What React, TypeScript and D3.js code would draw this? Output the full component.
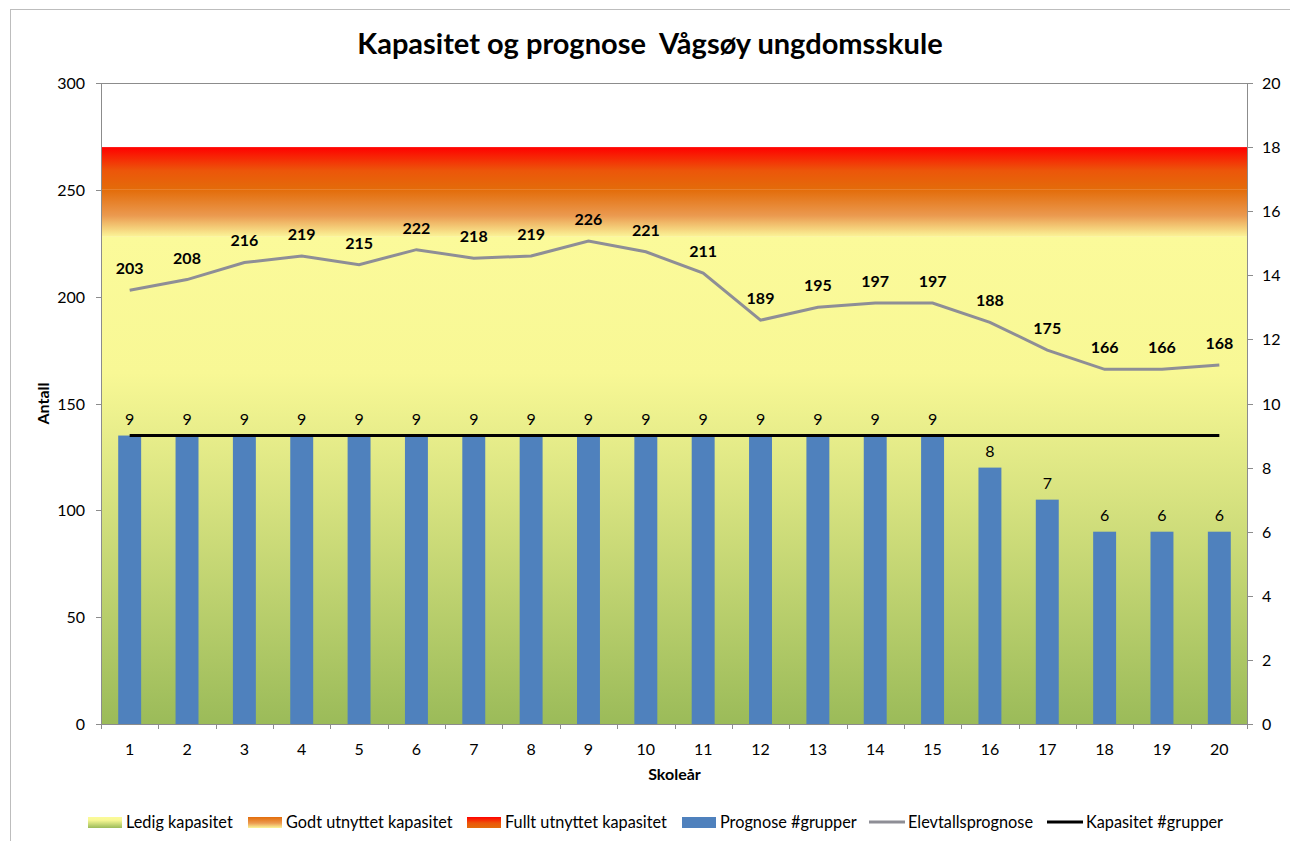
import React from "react";
import * as d3 from "d3";

const years = d3.range(1, 21).map(String);
const elevtall = [203, 208, 216, 219, 215, 222, 218, 219, 226, 221, 211, 189, 195, 197, 197, 188, 175, 166, 166, 168];
const grupper = [9, 9, 9, 9, 9, 9, 9, 9, 9, 9, 9, 9, 9, 9, 9, 8, 7, 6, 6, 6];
const kapasitetGrupper = [9, 9, 9, 9, 9, 9, 9, 9, 9, 9, 9, 9, 9, 9, 9, 9, 9, 9, 9, 9];
// stacked capacity bands (Antall)
const ledig = 228;
const godt = 22;
const fullt = 20;
const leftTicks = [0, 50, 100, 150, 200, 250, 300];
const rightTicks = [0, 2, 4, 6, 8, 10, 12, 14, 16, 18, 20];

const W = 1290;
const H = 841;
const m = { left: 101, right: 1248, top: 83, bottom: 724 };
const FONT = "Lato, 'Open Sans', sans-serif";

export default function App() {
  const x = d3.scaleBand().domain(years).range([m.left, m.right]);
  const yL = d3.scaleLinear().domain([0, 300]).range([m.bottom, m.top]);
  const yR = d3.scaleLinear().domain([0, 20]).range([m.bottom, m.top]);
  const barW = x.bandwidth() * 0.4;
  const cx = (i: number) => (x(years[i]) as number) + x.bandwidth() / 2;

  const line = d3.line<number>().x((_, i) => cx(i)).y((d) => yL(d));
  const capLine = d3.line<number>().x((_, i) => cx(i)).y((d) => yR(d));

  const bands = [
    { id: "gLedig", from: 0, to: ledig, c0: "#9bbb59", c1: "#fbfa9a", mid: "#f8f895", off: "72%" },
    { id: "gGodt", from: ledig, to: ledig + godt, c0: "#fbf598", c1: "#e36c0a", mid: "#eb9a50", off: "45%" },
    { id: "gFullt", from: ledig + godt, to: ledig + godt + fullt, c0: "#e36c0a", c1: "#ff0000", mid: "#ec560a", off: "45%" },
  ];

  const legend = [
    { kind: "grad", id: "gLedig", label: "Ledig kapasitet", x: 88 },
    { kind: "grad", id: "gGodt", label: "Godt utnyttet kapasitet", x: 248 },
    { kind: "grad", id: "gFullt", label: "Fullt utnyttet kapasitet", x: 467 },
    { kind: "bar", label: "Prognose #grupper", x: 682 },
    { kind: "grey", label: "Elevtallsprognose", x: 869 },
    { kind: "black", label: "Kapasitet #grupper", x: 1047 },
  ];

  return (
    <svg width={W} height={H} style={{ position: "absolute", left: 0, top: 0 }} fontFamily={FONT}>
      <defs>
        {bands.map((b) => (
          <linearGradient key={b.id} id={b.id} x1="0" y1="1" x2="0" y2="0">
            <stop offset="0%" stopColor={b.c0} />
            <stop offset={b.off} stopColor={b.mid} />
            <stop offset="100%" stopColor={b.c1} />
          </linearGradient>
        ))}
      </defs>
      <rect x={0} y={0} width={W} height={H} fill="#fff" />
      <rect x={10.5} y={9.5} width={W + 10} height={H + 10} fill="none" stroke="#bdbdbd" />

      <text x={650} y={54} textAnchor="middle" fontSize={29} fontWeight="bold" style={{ whiteSpace: "pre" }}>
        {"Kapasitet og prognose  Vågsøy ungdomsskule"}
      </text>

      {bands.map((b) => (
        <rect key={b.id} x={m.left} width={m.right - m.left} y={yL(b.to)} height={yL(b.from) - yL(b.to)} fill={`url(#${b.id})`} />
      ))}

      <rect x={m.left + 0.5} y={m.top + 0.5} width={m.right - m.left - 1} height={m.bottom - m.top} fill="none" stroke="#8c8c8c" />

      {grupper.map((g, i) => (
        <g key={i}>
          <rect x={cx(i) - barW / 2} y={yR(g)} width={barW} height={yR(0) - yR(g)} fill="#4f81bd" />
          <text x={cx(i)} y={yR(g) - 11} textAnchor="middle" fontSize={16} fill="#000">{g}</text>
        </g>
      ))}

      <path d={line(elevtall) ?? ""} fill="none" stroke="#8e8e96" strokeWidth={3} />
      <path d={capLine(kapasitetGrupper) ?? ""} fill="none" stroke="#000" strokeWidth={3} />
      {elevtall.map((v, i) => (
        <text key={i} x={cx(i)} y={yL(v) - 16} textAnchor="middle" fontSize={16} fontWeight="bold">{v}</text>
      ))}

      {/* left axis */}
      <line x1={m.left + 0.5} x2={m.left + 0.5} y1={m.top} y2={m.bottom} stroke="#8c8c8c" />
      {leftTicks.map((t) => (
        <g key={t} transform={`translate(0,${Math.round(yL(t)) + 0.5})`}>
          <line x1={m.left - 5} x2={m.left} stroke="#8c8c8c" />
          <text x={m.left - 16} dy="0.35em" textAnchor="end" fontSize={16}>{t}</text>
        </g>
      ))}
      {/* right axis */}
      <line x1={m.right - 0.5} x2={m.right - 0.5} y1={m.top} y2={m.bottom} stroke="#8c8c8c" />
      {rightTicks.map((t) => (
        <g key={t} transform={`translate(0,${Math.round(yR(t)) + 0.5})`}>
          <line x1={m.right} x2={m.right + 5} stroke="#8c8c8c" />
          <text x={m.right + 14} dy="0.35em" textAnchor="start" fontSize={16}>{t}</text>
        </g>
      ))}
      {/* x axis */}
      <line x1={m.left} x2={m.right} y1={m.bottom + 0.5} y2={m.bottom + 0.5} stroke="#8c8c8c" />
      {years.map((yr, i) => (
        <g key={yr}>
          <line x1={Math.round(x(yr) as number) + 0.5} x2={Math.round(x(yr) as number) + 0.5} y1={m.bottom} y2={m.bottom + 5} stroke="#8c8c8c" />
          <text x={cx(i)} y={755} textAnchor="middle" fontSize={16}>{yr}</text>
        </g>
      ))}
      <line x1={m.right - 0.5} x2={m.right - 0.5} y1={m.bottom} y2={m.bottom + 5} stroke="#8c8c8c" />

      <text transform={`translate(49,${(m.top + m.bottom) / 2}) rotate(-90)`} textAnchor="middle" fontSize={16} fontWeight="bold">Antall</text>
      <text x={(m.left + m.right) / 2} y={780} textAnchor="middle" fontSize={16} fontWeight="bold">Skoleår</text>

      {legend.map((l) => (
        <g key={l.label} transform={`translate(${l.x},822)`}>
          {l.kind === "grad" && <rect x={0} y={-5} width={34} height={11} fill={`url(#${l.id})`} />}
          {l.kind === "bar" && <rect x={0} y={-5} width={34} height={11} fill="#4f81bd" />}
          {l.kind === "grey" && <line x1={0} x2={36} y1={0} y2={0} stroke="#8e8e96" strokeWidth={3} />}
          {l.kind === "black" && <line x1={0} x2={36} y1={0} y2={0} stroke="#000" strokeWidth={3} />}
          <text x={l.kind === "grey" || l.kind === "black" ? 39 : 38} dy="0.35em" fontSize={16.3}>{l.label}</text>
        </g>
      ))}
    </svg>
  );
}
